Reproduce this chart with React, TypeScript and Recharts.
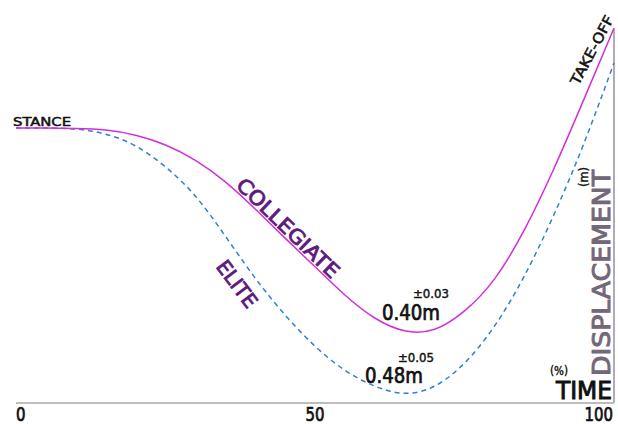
import { Customized, Line, LineChart, ReferenceLine, XAxis, YAxis } from 'recharts';

// time in % of the movement, displacement in m relative to stance
const TIME = [0, 5, 10, 15, 20, 25, 30, 35, 40, 45, 50, 55, 60, 65, 70, 75, 80, 85, 90, 95, 100];
const COLLEGIATE = [
  0, 0, -0.001, -0.004, -0.014, -0.033, -0.063, -0.105, -0.158, -0.215, -0.271, -0.326, -0.371, -0.396,
  -0.393, -0.357, -0.295, -0.199, -0.078, 0.057, 0.195,
];
const ELITE = [
  0, 0, -0.002, -0.012, -0.035, -0.076, -0.133, -0.211, -0.293, -0.365, -0.426, -0.473, -0.504, -0.518,
  -0.504, -0.459, -0.387, -0.289, -0.168, -0.029, 0.127,
];
const X_TICKS = [0, 50, 100];
const Y_DOMAIN = [-0.537, 0.211];

const data = TIME.map((t, i) => ({ t, collegiate: COLLEGIATE[i], elite: ELITE[i] }));

const FONT = '"DejaVu Sans Condensed", "Liberation Sans Narrow", "DejaVu Sans", sans-serif';
const PURPLE = '#5e1a7c';

// medium weight look: regular glyphs with a thin outline in the same colour
const med = (fill: string, w = 0.6) => ({ fill, stroke: fill, strokeWidth: w });

function TimeTick({ x, y, payload }: any) {
  const v = payload.value;
  const anchor = v === 0 ? 'start' : v === 100 ? 'end' : 'middle';
  const s = String(v);
  return (
    <text
      x={v === 100 ? x - 1 : x}
      y={y + 10}
      textAnchor={anchor}
      fontSize={19}
      fontFamily={FONT}
      textLength={s.length * 9.5}
      lengthAdjust="spacingAndGlyphs"
      {...med('#111', 0.7)}
    >
      {s}
    </text>
  );
}

function Annotations() {
  return (
    <g fontFamily={FONT}>
      <text x={13} y={126} fontSize={13} textLength={58} lengthAdjust="spacingAndGlyphs" {...med('#111', 0.5)}>
        STANCE
      </text>
      <text
        x={0}
        y={0}
        transform="translate(288,228) rotate(44)"
        textAnchor="middle"
        dominantBaseline="central"
        fontSize={20}
        textLength={134}
        lengthAdjust="spacingAndGlyphs"
        {...med(PURPLE, 0.8)}
      >
        COLLEGIATE
      </text>
      <text
        x={0}
        y={0}
        transform="translate(237,284) rotate(53)"
        textAnchor="middle"
        dominantBaseline="central"
        fontSize={20}
        textLength={54}
        lengthAdjust="spacingAndGlyphs"
        {...med(PURPLE, 0.8)}
      >
        ELITE
      </text>
      <text x={382} y={320} fontSize={21} textLength={58} lengthAdjust="spacingAndGlyphs" {...med('#111', 0.7)}>
        0.40m
      </text>
      <text x={413} y={298} fontSize={12} textLength={36} lengthAdjust="spacingAndGlyphs" {...med('#111', 0.4)}>
        ±0.03
      </text>
      <text x={365} y={383} fontSize={21} textLength={58} lengthAdjust="spacingAndGlyphs" {...med('#111', 0.7)}>
        0.48m
      </text>
      <text x={398} y={362} fontSize={12} textLength={36} lengthAdjust="spacingAndGlyphs" {...med('#111', 0.4)}>
        ±0.05
      </text>
      <text
        x={0}
        y={0}
        transform="translate(592,50) rotate(-62)"
        textAnchor="middle"
        dominantBaseline="central"
        fontSize={14}
        textLength={76}
        lengthAdjust="spacingAndGlyphs"
        {...med('#111', 0.5)}
      >
        TAKE-OFF
      </text>
      <text
        x={0}
        y={0}
        transform="translate(610,376) rotate(-90)"
        fontSize={25}
        textLength={206}
        lengthAdjust="spacingAndGlyphs"
        {...med('#736879', 0.9)}
      >
        DISPLACEMENT
      </text>
      <text
        x={0}
        y={0}
        transform="translate(588,187) rotate(-90)"
        fontSize={12}
        textLength={20}
        lengthAdjust="spacingAndGlyphs"
        {...med('#111', 0.4)}
      >
        (m)
      </text>
      <text x={550} y={375} fontSize={13} textLength={18} lengthAdjust="spacingAndGlyphs" {...med('#111', 0.4)}>
        (%)
      </text>
      <text x={556} y={399} fontSize={25} textLength={56} lengthAdjust="spacingAndGlyphs" {...med('#111', 0.9)}>
        TIME
      </text>
    </g>
  );
}

export default function App() {
  return (
    <div style={{ position: 'absolute', left: 0, top: 0, background: '#fff' }}>
      <LineChart
        width={618}
        height={424}
        data={data}
        margin={{ top: 20, right: 4, left: 16, bottom: 0 }}
      >
        <XAxis
          dataKey="t"
          type="number"
          domain={[0, 100]}
          ticks={X_TICKS}
          tick={<TimeTick />}
          tickLine={false}
          axisLine={{ stroke: '#bdbdbd', strokeWidth: 2 }}
          height={21}
          interval={0}
        />
        <YAxis hide domain={Y_DOMAIN} type="number" allowDataOverflow />
        <ReferenceLine
          segment={[
            { x: 100, y: 0.195 },
            { x: 100, y: -0.537 },
          ]}
          stroke="#9a8ca3"
          strokeWidth={1.5}
        />
        <Line
          dataKey="elite"
          type="natural"
          stroke="#2f7fd8"
          strokeWidth={1.5}
          strokeDasharray="5 4"
          dot={false}
          isAnimationActive={false}
        />
        <Line
          dataKey="collegiate"
          type="natural"
          stroke="#d22fd8"
          strokeWidth={1.5}
          dot={false}
          isAnimationActive={false}
        />
        <Customized component={Annotations} />
      </LineChart>
    </div>
  );
}
